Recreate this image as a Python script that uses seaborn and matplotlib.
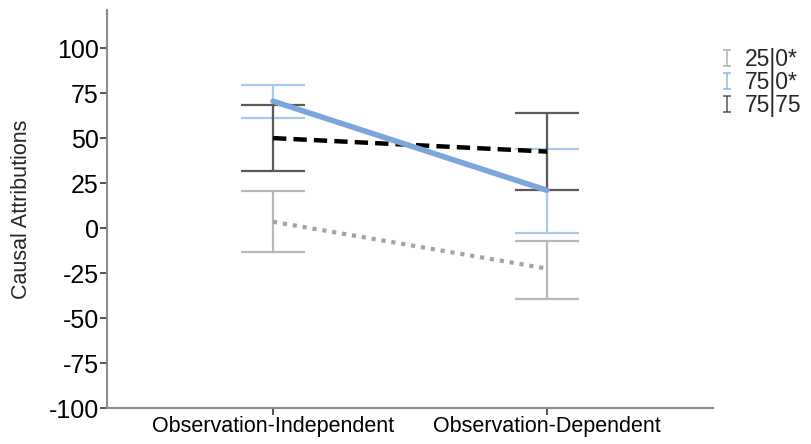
import matplotlib
matplotlib.use("Agg")
import matplotlib.pyplot as plt
import seaborn as sns
import pandas as pd
import numpy as np
from matplotlib.path import Path
from matplotlib.lines import Line2D

sns.set_theme(style="white")
plt.rcParams['font.family'] = ['Liberation Sans', 'DejaVu Sans']

conditions = ["Observation-Independent", "Observation-Dependent"]
groups = ["25|0*", "75|0*", "75|75"]
means = {
    "25|0*": [3.5, -22.5],
    "75|0*": [70.5, 21.0],
    "75|75": [50.0, 42.5],
}
ci_low = {
    "25|0*": [-13.5, -39.5],
    "75|0*": [61.0, -3.0],
    "75|75": [31.5, 21.0],
}
ci_high = {
    "25|0*": [20.5, -7.0],
    "75|0*": [79.5, 44.0],
    "75|75": [68.5, 64.0],
}
yticks = [-100, -75, -50, -25, 0, 25, 50, 75, 100]

line_colors = {"25|0*": "#a3a3a3", "75|0*": "#7aa6d9", "75|75": "#000000"}
err_colors = {"25|0*": "#b8b8b8", "75|0*": "#a9c9ee", "75|75": "#5a5a5a"}
leg_colors = {"25|0*": "#b0b0b0", "75|0*": "#8fb8e6", "75|75": "#555555"}
dashes = {"25|0*": (1, 1.4), "75|0*": "", "75|75": (3, 1.6)}
widths = {"25|0*": 3, "75|0*": 4, "75|75": 3.2}

rows = []
for g in groups:
    for i, c in enumerate(conditions):
        rows.append({"condition": c, "group": g, "mean": means[g][i],
                     "lo": ci_low[g][i], "hi": ci_high[g][i]})
df = pd.DataFrame(rows)

fig = plt.figure(figsize=(8.11, 4.44), dpi=100)
ax = fig.add_axes([0.132, 0.081, 0.747, 0.897])

# error bars
for g in groups:
    sub = df[df.group == g]
    xs = np.arange(len(conditions))
    ax.errorbar(xs, sub["mean"], yerr=[sub["mean"] - sub["lo"], sub["hi"] - sub["mean"]],
                fmt="none", ecolor=err_colors[g], elinewidth=1.6, capsize=23, capthick=1.6, zorder=2)

# mean lines
for g, z in zip(["25|0*", "75|75", "75|0*"], [3, 4, 5]):
    sub = df[df.group == g]
    sns.lineplot(data=sub, x="condition", y="mean", ax=ax, color=line_colors[g],
                 lw=widths[g], dashes=False, zorder=z, legend=False, sort=False)
    ln = ax.lines[-1]
    if dashes[g]:
        ln.set_dashes(dashes[g])
    ln.set_dash_capstyle("butt")

ax.set_xlim(-0.606, 1.606)
ax.set_ylim(-100, 121.3)
ax.set_yticks(yticks)
ax.set_yticklabels([str(t) for t in yticks], fontsize=18)
ax.set_xticks([0, 1])
ax.set_xticklabels(conditions, fontsize=15.5)
ax.set_xlabel("")
ax.set_ylabel("Causal Attributions", fontsize=15.5, labelpad=12)
for s in ["top", "right"]:
    ax.spines[s].set_visible(False)
for s in ["left", "bottom"]:
    ax.spines[s].set_color("#8c8c8c")
    ax.spines[s].set_linewidth(1.5)
ax.tick_params(axis="both", which="both", direction="out", length=5, width=1.3,
               color="#444444", labelcolor="black", pad=1)
ax.tick_params(axis="y", left=True)
ax.tick_params(axis="x", bottom=True)

# legend with I-shaped handles
verts = [(-0.5, -1), (0.5, -1), (0, -1), (0, 1), (-0.5, 1), (0.5, 1)]
codes = [Path.MOVETO, Path.LINETO, Path.MOVETO, Path.LINETO, Path.MOVETO, Path.LINETO]
ibar = Path(verts, codes)
handles = [Line2D([], [], linestyle="none", marker=ibar, markersize=11,
                  markeredgecolor=leg_colors[g], markerfacecolor="none",
                  markeredgewidth=1.1) for g in groups]
leg = fig.legend(handles, groups, loc="upper left", bbox_to_anchor=(720 / 811, 1 - 48 / 444),
                 frameon=False, fontsize=16.5, handlelength=0.62, handletextpad=0.45,
                 labelspacing=0.0, borderaxespad=0, borderpad=0)

fig.savefig("out.png", dpi=100)
